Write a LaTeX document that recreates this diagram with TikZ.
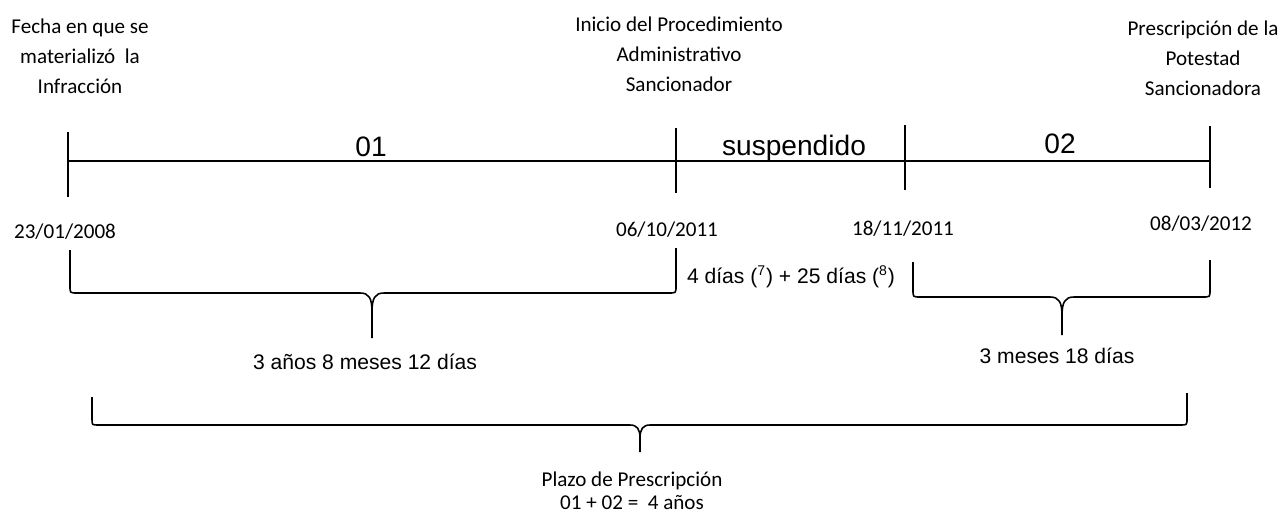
\documentclass[tikz,border=0pt]{standalone}
\usepackage{fontspec}
\setmainfont{Carlito}
\newfontfamily\arialfont{Liberation Sans}
\usepackage{tikz}

\begin{document}
\begin{tikzpicture}[x=0.2mm,y=-0.2mm,
		etiqueta/.style={align=center,inner sep=0pt,font=\fontsize{12}{17}\selectfont},
		fecha/.style={inner sep=0pt,font=\fontsize{12}{14}\selectfont},
		tramo/.style={inner sep=0pt,anchor=base,font=\arialfont\fontsize{16}{18}\selectfont},
		lapso/.style={inner sep=0pt,font=\arialfont\fontsize{12}{14}\selectfont},
		linea/.style={line width=0.8pt},
		marca/.style={line width=0.6pt},
		llave/.style={line width=0.9pt,line join=round}]
		\useasboundingbox (0,0) rectangle (1282,513);
		\coordinate (ini) at (68,161);
		\coordinate (pas) at (676,161);
		\coordinate (rea) at (905,161);
		\coordinate (fin) at (1210,161);
		\draw[linea] (ini) -- (fin);
		\draw[marca] (68,132) -- (68,197);
		\draw[marca] (676,128) -- (676,193);
		\draw[marca] (905,125) -- (905,190);
		\draw[marca] (1210,126) -- (1210,188);
		\node[tramo] (uno) at (371,156) {01};
		\node[tramo] (susp) at (794,155) {suspendido};
		\node[tramo] (dos) at (1060,153) {02};
		\node[etiqueta] (hecho) at (80,56) {Fecha en que se\\materializó\ \ la\\Infracción};
		\node[etiqueta] (inicio) at (679,54) {Inicio del Procedimiento\\Administrativo\\Sancionador};
		\node[etiqueta] (prescr) at (1203,58) {Prescripción de la\\Potestad\\Sancionadora};
		\node[fecha] (f1) at (65,232) {23/01/2008};
		\node[fecha] (f2) at (667,230) {06/10/2011};
		\node[fecha] (f3) at (903,229) {18/11/2011};
		\node[fecha] (f4) at (1201,224) {08/03/2012};
		\coordinate (p1) at (372,338);
		\draw[llave] (70,250) -- (70,286) .. controls (70,293) .. (77,293) -- (360,293) .. controls (369,293) and (372,298) .. (372,312) -- (p1);
		\draw[llave] (676,248) -- (676,286) .. controls (676,293) .. (669,293) -- (384,293) .. controls (375,293) and (372,298) .. (372,312);
		\coordinate (p2) at (1062,335);
		\draw[llave] (913,262) -- (913,290) .. controls (913,297) .. (920,297) -- (1050,297) .. controls (1059,297) and (1062,302) .. (1062,316) -- (p2);
		\draw[llave] (1210,260) -- (1210,290) .. controls (1210,297) .. (1203,297) -- (1074,297) .. controls (1065,297) and (1062,302) .. (1062,316);
		\coordinate (p3) at (640,452);
		\draw[llave] (92,397) -- (92,419) .. controls (92,425) .. (98,425) -- (630,425) .. controls (637,425) and (640,429) .. (640,438) -- (p3);
		\draw[llave] (1187,393) -- (1187,418) .. controls (1187,425) .. (1181,425) -- (650,425) .. controls (643,425) and (640,429) .. (640,438);
		\node[lapso] (susplapso) at (791,277) {4 días (\textsuperscript{7}) + 25 días (\textsuperscript{8})};
		\node[lapso] (l1) at (365,362) {3 años 8 meses 12 días};
		\node[lapso] (l2) at (1057,356) {3 meses 18 días};
		\node[etiqueta,font=\fontsize{12}{13}\selectfont] (total) at (632,491) {Plazo de Prescripción\\01 + 02 =\ \ 4 años};
	\end{tikzpicture}
\end{document}
